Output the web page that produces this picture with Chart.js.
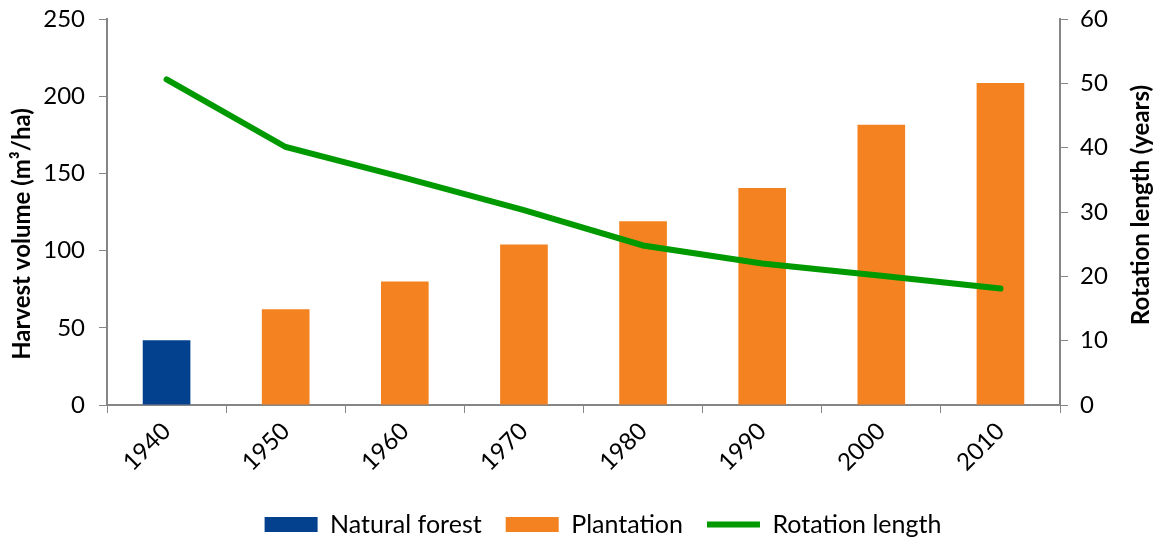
<!DOCTYPE html>
<html lang="en">
<head>
    <meta charset="UTF-8">
    <title>Harvest volume and rotation length</title>
    <script src="https://cdn.jsdelivr.net/npm/chart.js"></script>
    <style>
        html, body { margin: 0; padding: 0; background: #fff; }
        #wrap { width: 1162px; height: 541px; }
    </style>
</head>
<body>
    <div id="wrap"><canvas id="chart"></canvas></div>

    <script>
        const years = ["1940", "1950", "1960", "1970", "1980", "1990", "2000", "2010"];
        const naturalForest = [42, null, null, null, null, null, null, null];
        const plantation = [null, 62, 80, 104, 119, 140.5, 181.5, 208.5];
        const rotationLength = [50.6, 40.1, 35.3, 30.3, 24.8, 22.0, 20.1, 18.1];

        const axisColor = "#868686";
        const font = "Lato";

        // both axis titles read bottom-to-top, placed like the Excel original
        function drawTitle(c, text, x, y) {
            c.save();
            c.translate(x, y);
            c.rotate(-Math.PI / 2);
            c.font = "bold 24px " + font;
            c.fillStyle = "#000";
            c.textAlign = "center";
            c.textBaseline = "middle";
            c.fillText(text, 0, 0);
            c.restore();
        }

        const axisTitles = {
            id: "axisTitles",
            afterDraw(chart) {
                drawTitle(chart.ctx, "Harvest volume (m³/ha)", 22, 234);
                drawTitle(chart.ctx, "Rotation length (years)", 1141, 205);
            }
        };

        const ctx = document.getElementById("chart").getContext("2d");
        new Chart(ctx, {
            type: "bar",
            data: {
                labels: years,
                datasets: [
                    {
                        label: "Natural forest",
                        data: naturalForest,
                        backgroundColor: "#03418F",
                        yAxisID: "y",
                        order: 2,
                        pointStyle: "rect"
                    },
                    {
                        label: "Plantation",
                        data: plantation,
                        backgroundColor: "#F58220",
                        yAxisID: "y",
                        order: 2,
                        pointStyle: "rect"
                    },
                    {
                        type: "line",
                        label: "Rotation length",
                        data: rotationLength,
                        borderColor: "#009A00",
                        backgroundColor: "#009A00",
                        borderWidth: 6,
                        borderCapStyle: "round",
                        pointRadius: 0,
                        tension: 0,
                        yAxisID: "y1",
                        order: 1,
                        pointStyle: "line"
                    }
                ]
            },
            plugins: [axisTitles],
            options: {
                responsive: true,
                maintainAspectRatio: false,
                animation: false,
                skipNull: true,
                categoryPercentage: 1,
                barPercentage: 0.4,
                layout: {
                    autoPadding: false,
                    padding: { top: 19, left: 44, right: 0, bottom: -6 }
                },
                plugins: {
                    tooltip: { enabled: false },
                    legend: {
                        position: "bottom",
                        labels: {
                            usePointStyle: true,
                            pointStyleWidth: 53,
                            boxHeight: 15,
                            padding: 24,
                            color: "#000",
                            font: { family: font, size: 25 },
                            sort: (a, b) => a.datasetIndex - b.datasetIndex
                        }
                    }
                },
                scales: {
                    x: {
                        offset: true,
                        grid: {
                            drawOnChartArea: false,
                            drawTicks: true,
                            tickLength: 8,
                            color: axisColor,
                            offset: true
                        },
                        border: { color: axisColor, width: 2 },
                        ticks: {
                            color: "#000",
                            font: { family: font, size: 24 },
                            maxRotation: 45,
                            minRotation: 45,
                            padding: 4
                        },
                        afterFit: (scale) => { scale.height = 83; }
                    },
                    y: {
                        position: "left",
                        min: 0,
                        max: 250,
                        ticks: {
                            stepSize: 50,
                            color: "#000",
                            font: { family: font, size: 24, lineHeight: 0.4 },
                            padding: 14
                        },
                        grid: {
                            drawOnChartArea: false,
                            tickLength: 8,
                            color: axisColor
                        },
                        border: { color: axisColor, width: 2 },
                        afterFit: (scale) => { scale.width = 63; }
                    },
                    y1: {
                        position: "right",
                        min: 0,
                        max: 60,
                        ticks: {
                            stepSize: 10,
                            color: "#000",
                            font: { family: font, size: 24, lineHeight: 0.4 },
                            padding: 12
                        },
                        grid: {
                            drawOnChartArea: false,
                            tickLength: 8,
                            color: axisColor
                        },
                        border: { color: axisColor, width: 2 },
                        afterFit: (scale) => { scale.width = 102; }
                    }
                }
            }
        });
    </script>
</body>
</html>
